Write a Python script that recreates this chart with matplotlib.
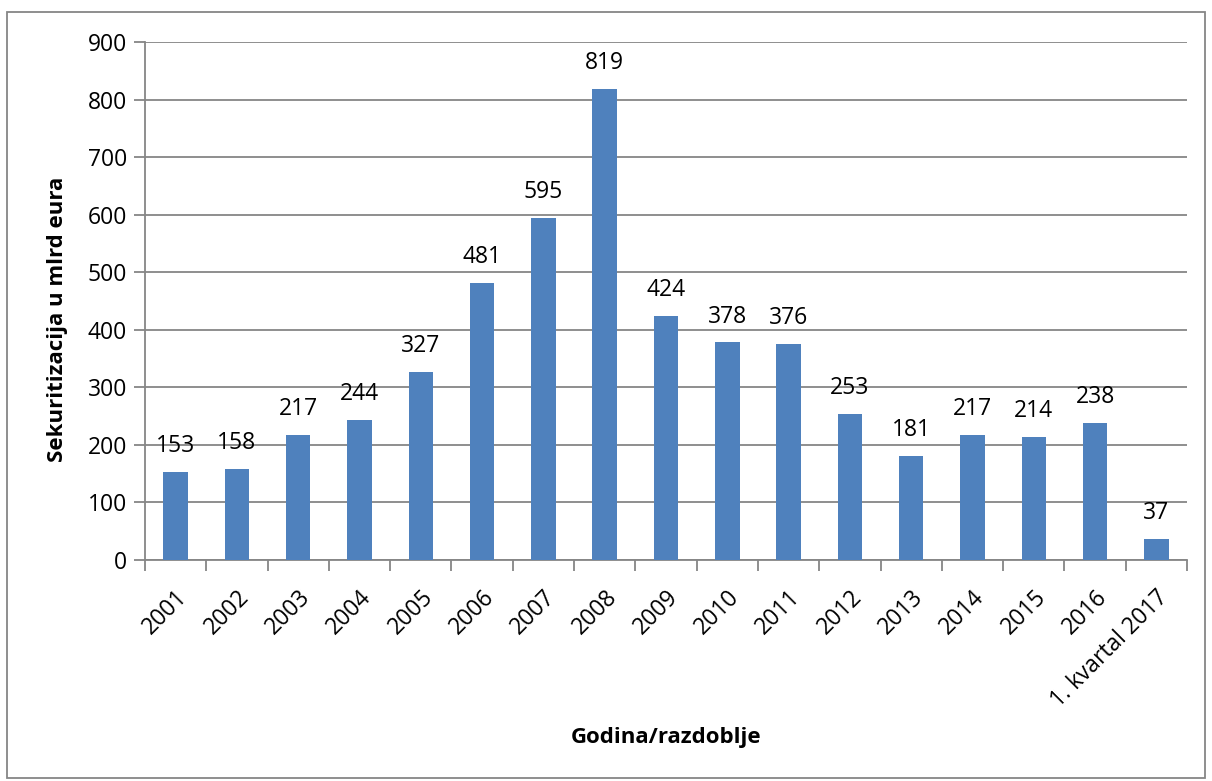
import matplotlib
matplotlib.use("Agg")
import matplotlib.pyplot as plt
from matplotlib.patches import Rectangle

categories = ["2001", "2002", "2003", "2004", "2005", "2006", "2007", "2008", "2009",
              "2010", "2011", "2012", "2013", "2014", "2015", "2016", "1. kvartal 2017"]
values = [153, 158, 217, 244, 327, 481, 595, 819, 424, 378, 376, 253, 181, 217, 214, 238, 37]

plt.rcParams['font.family'] = ['Open Sans', 'DejaVu Sans']

fig = plt.figure(figsize=(12.12, 7.81), dpi=100)
ax = fig.add_axes([145/1212, 1-560/781, (1187-145)/1212, (560-42)/781])

grey = '#868686'
x = list(range(len(categories)))
ax.bar(x, values, width=0.4, color='#4F81BD', zorder=3)
for xi, v in zip(x, values):
    ax.annotate(str(v), (xi, v), xytext=(0, 10), textcoords='offset points',
                ha='center', va='bottom', fontsize=16.5, color='black')

ax.set_xlim(-0.5, len(categories) - 0.5)
ax.set_ylim(0, 900)
ax.set_yticks(range(0, 901, 100))
ax.yaxis.grid(True, color=grey, linewidth=1.3, zorder=0)
ax.set_xticks(x)
ax.set_xticklabels(categories, rotation=45, ha='right', rotation_mode='anchor', fontsize=16.5)
ax.set_xticks([i - 0.5 for i in range(len(categories) + 1)], minor=True)
ax.tick_params(axis='x', which='major', length=0, pad=18)
ax.tick_params(axis='x', which='minor', length=8, width=1.3, color=grey)
ax.tick_params(axis='y', length=8, width=1.3, color=grey, labelsize=16.5, pad=5)
for s in ['top', 'right']:
    ax.spines[s].set_visible(False)
for s in ['left', 'bottom']:
    ax.spines[s].set_color(grey)
    ax.spines[s].set_linewidth(1.3)

fig.text(57/1212, 1-319/781, 'Sekuritizacija u mlrd eura', fontsize=16, fontweight='bold',
         rotation=90, ha='center', va='center')
fig.text(666/1212, 1-737/781, 'Godina/razdoblje', fontsize=16, fontweight='bold',
         ha='center', va='center')

fig.patches.append(Rectangle((7/1212, 1-778/781), (1205-7)/1212, (778-12)/781,
                             transform=fig.transFigure, fill=False, edgecolor=grey, linewidth=1.3))

fig.savefig('out.png', dpi=100)
